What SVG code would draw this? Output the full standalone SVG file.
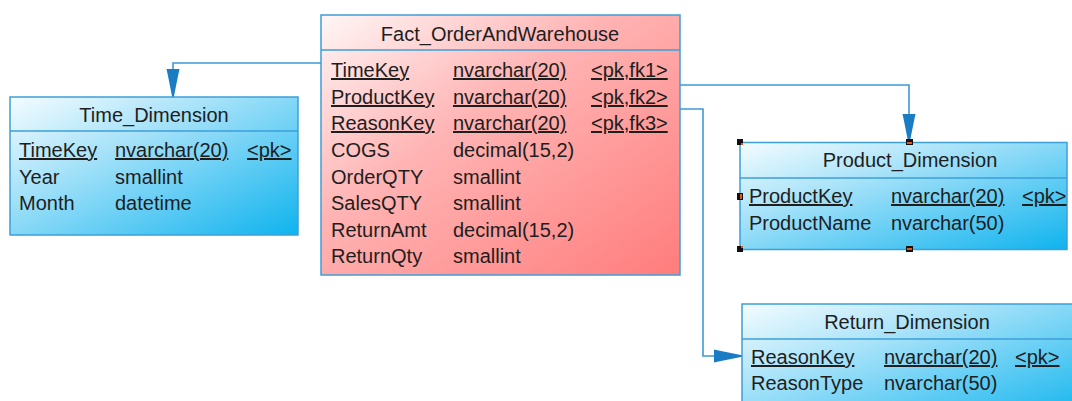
<svg xmlns="http://www.w3.org/2000/svg" width="1072" height="401" viewBox="0 0 1072 401">
  <defs>
    <linearGradient id="gBlue" x1="0" y1="0" x2="1" y2="1">
      <stop offset="0" stop-color="#f4fcff"/>
      <stop offset="0.35" stop-color="#a9e3f9"/>
      <stop offset="1" stop-color="#0fb3ee"/>
    </linearGradient>
    <linearGradient id="gRed" x1="0" y1="0" x2="1" y2="1">
      <stop offset="0" stop-color="#fff6f6"/>
      <stop offset="0.4" stop-color="#ffb4b4"/>
      <stop offset="1" stop-color="#ff7c7c"/>
    </linearGradient>
    <marker id="arrow" viewBox="0 -8 30 16" refX="28" refY="0" markerWidth="30" markerHeight="16" markerUnits="userSpaceOnUse" orient="auto">
      <path d="M0,-6.5 L7,-5 L28,-0.8 L28,0.8 L7,5 L0,6.5 Z" fill="#1a7cc2"/>
    </marker>
    <style>
      .box { stroke: #3c9fd8; stroke-width: 1.5; }
      .sep { stroke: #3c9fd8; stroke-width: 1.5; }
      .title { font-family: "Liberation Sans", Arial, sans-serif; font-size: 20px; fill: #1e1e1e; text-anchor: middle; }
      .t { font-family: "Liberation Sans", Arial, sans-serif; font-size: 20px; fill: #1e1e1e; }
      .u { text-decoration: underline; }
      .conn { fill: none; stroke: #3c9ad6; stroke-width: 1.6; }
      .hb { fill: #111; }
      .ho { fill: #e2581c; }
    </style>
  </defs>

  <!-- relationship lines -->
  <g id="connectors">
    <path class="conn" d="M321,63 H173 V97" marker-end="url(#arrow)"/>
    <path class="conn" d="M680,85 H909 V142" marker-end="url(#arrow)"/>
    <path class="conn" d="M680,109 H703 V356 H742" marker-end="url(#arrow)"/>
  </g>

  <!-- fact table -->
  <g id="fact_order_and_warehouse">
    <rect class="box" x="321" y="15" width="359" height="260" fill="url(#gRed)"/>
    <line class="sep" x1="321" y1="50" x2="680" y2="50"/>
    <text class="title" x="500" y="41">Fact_OrderAndWarehouse</text>
    <text class="t u" x="331" y="77">TimeKey</text>
    <text class="t u" x="453" y="77">nvarchar(20)</text>
    <text class="t u" x="591" y="77">&lt;pk,fk1&gt;</text>
    <text class="t u" x="331" y="104">ProductKey</text>
    <text class="t u" x="453" y="104">nvarchar(20)</text>
    <text class="t u" x="591" y="104">&lt;pk,fk2&gt;</text>
    <text class="t u" x="331" y="130">ReasonKey</text>
    <text class="t u" x="453" y="130">nvarchar(20)</text>
    <text class="t u" x="591" y="130">&lt;pk,fk3&gt;</text>
    <text class="t" x="331" y="157">COGS</text>
    <text class="t" x="453" y="157">decimal(15,2)</text>
    <text class="t" x="331" y="184">OrderQTY</text>
    <text class="t" x="453" y="184">smallint</text>
    <text class="t" x="331" y="210">SalesQTY</text>
    <text class="t" x="453" y="210">smallint</text>
    <text class="t" x="331" y="237">ReturnAmt</text>
    <text class="t" x="453" y="237">decimal(15,2)</text>
    <text class="t" x="331" y="263">ReturnQty</text>
    <text class="t" x="453" y="263">smallint</text>
  </g>

  <!-- time dimension -->
  <g id="time_dimension">
    <rect class="box" x="10" y="97" width="288" height="138" fill="url(#gBlue)"/>
    <line class="sep" x1="10" y1="131" x2="298" y2="131"/>
    <text class="title" x="154" y="122">Time_Dimension</text>
    <text class="t u" x="19" y="157">TimeKey</text>
    <text class="t u" x="115" y="157">nvarchar(20)</text>
    <text class="t u" x="247" y="157">&lt;pk&gt;</text>
    <text class="t" x="19" y="184">Year</text>
    <text class="t" x="115" y="184">smallint</text>
    <text class="t" x="19" y="210">Month</text>
    <text class="t" x="115" y="210">datetime</text>
  </g>

  <!-- product dimension (selected) -->
  <g id="product_dimension">
    <rect class="box" x="740" y="142.5" width="327" height="107" fill="url(#gBlue)"/>
    <line class="sep" x1="740" y1="178" x2="1067" y2="178"/>
    <text class="title" x="910" y="167">Product_Dimension</text>
    <text class="t u" x="749" y="203">ProductKey</text>
    <text class="t u" x="891" y="203">nvarchar(20)</text>
    <text class="t u" x="1022" y="203">&lt;pk&gt;</text>
    <text class="t" x="749" y="230">ProductName</text>
    <text class="t" x="891" y="230">nvarchar(50)</text>
    <!-- selection handles -->
    <rect class="hb" x="737" y="139" width="6" height="6"/>
    <rect class="ho" x="741" y="143" width="2" height="2"/>
    <rect class="hb" x="737" y="193" width="6" height="7"/>
    <rect class="ho" x="740" y="194" width="2" height="5"/>
    <rect class="hb" x="737" y="246" width="6" height="6"/>
    <rect class="ho" x="741" y="246" width="2" height="2"/>
    <rect class="hb" x="906" y="139" width="7" height="6"/>
    <rect class="ho" x="907" y="142" width="5" height="2"/>
    <rect class="hb" x="906" y="246" width="7" height="6"/>
    <rect class="ho" x="907" y="248" width="5" height="2"/>
  </g>

  <!-- return dimension -->
  <g id="return_dimension">
    <rect class="box" x="742" y="304" width="336" height="120" fill="url(#gBlue)"/>
    <line class="sep" x1="742" y1="339" x2="1078" y2="339"/>
    <text class="title" x="907" y="329">Return_Dimension</text>
    <text class="t u" x="751" y="364">ReasonKey</text>
    <text class="t u" x="884" y="364">nvarchar(20)</text>
    <text class="t u" x="1015" y="364">&lt;pk&gt;</text>
    <text class="t" x="751" y="390">ReasonType</text>
    <text class="t" x="884" y="390">nvarchar(50)</text>
  </g>
</svg>
